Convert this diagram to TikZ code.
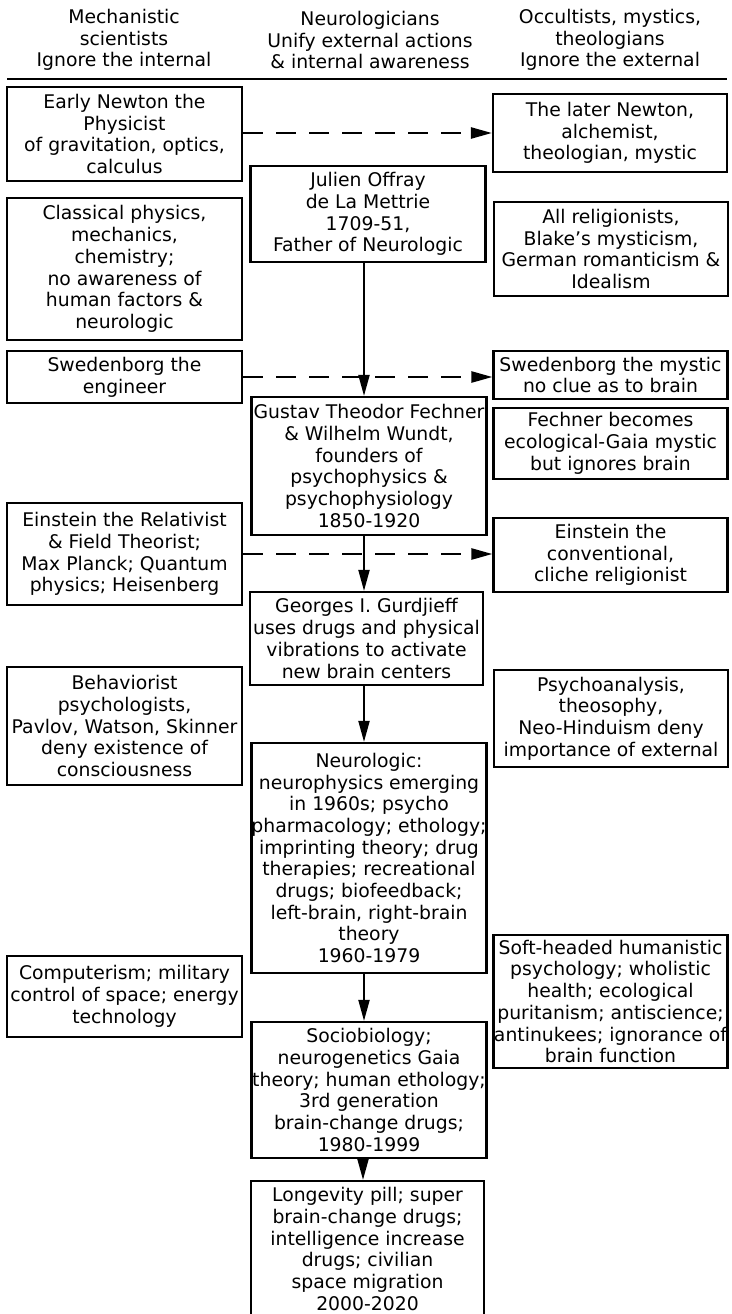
\documentclass[tikz,border=0pt]{standalone}
\usepackage{fontspec}
\setmainfont{DejaVu Sans}
\usetikzlibrary{arrows.meta}
\newcommand{\chartfont}{\fontsize{18.8}{21.7}\selectfont}

\begin{document}
\begin{tikzpicture}[x=1pt,y=-1pt,
  cbox/.style={draw,line width=2.2pt,inner sep=0pt,align=center,font=\chartfont},
  lcol/.style={cbox,minimum width=235pt},
  mcol/.style={cbox,minimum width=235pt},
  rcol/.style={cbox,minimum width=234pt},
  headtext/.style={align=center,inner sep=0pt,font=\chartfont},
  flow/.style={-{Triangle[length=21pt,width=11pt]},line width=2pt},
  crossflow/.style={-{Triangle[length=21pt,width=11pt]},line width=2.5pt,dash pattern=on 20pt off 13pt}]
  \clip (0,0) rectangle (731,1314);
  \fill[white] (0,0) rectangle (731,1314);

  % column headings
  \node[headtext] (hleft) at (124,40) {Mechanistic\\scientists\\Ignore the internal};
  \node[headtext] (hmid) at (370,40) {Neurologicians\\Unify external actions\\\& internal awareness};
  \node[headtext] (hright) at (610,40) {Occultists, mystics,\\theologians\\Ignore the external};
  \draw[line width=2.7pt] (7,79) -- (727,79);

  % left column
  \node[lcol,minimum height=94pt] (lnewton) at (124.5,134) {Early Newton the\\Physicist\\of gravitation, optics,\\calculus};
  \node[lcol,minimum height=142pt] (lclassic) at (124.5,269) {Classical physics,\\mechanics,\\chemistry;\\no awareness of\\human factors \&\\neurologic};
  \node[lcol,minimum height=52pt] (lsweden) at (124.5,377) {Swedenborg the\\engineer};
  \node[lcol,minimum height=102pt] (leinstein) at (124.5,554) {Einstein the Relativist\\\& Field Theorist;\\Max Planck; Quantum\\physics; Heisenberg};
  \node[lcol,minimum height=118pt] (lbehav) at (124.5,726) {Behaviorist\\psychologists,\\Pavlov, Watson, Skinner\\deny existence of\\consciousness};
  \node[lcol,minimum height=81pt] (lcomput) at (124.5,996.5) {Computerism; military\\control of space; energy\\technology};

  % middle column
  \node[mcol,minimum height=96pt] (mlamettrie) at (368,214) {Julien Offray\\de La Mettrie\\1709-51,\\Father of Neurologic};
  \node[mcol,minimum height=138pt] (mfechner) at (369,466) {Gustav Theodor Fechner\\\& Wilhelm Wundt,\\founders of\\psychophysics \&\\psychophysiology\\1850-1920};
  \node[mcol,minimum width=233pt,minimum height=93pt] (mgurdjieff) at (366.5,638.5) {Georges I. Gurdjieff\\uses drugs and physical\\vibrations to activate\\new brain centers};
  \node[mcol,minimum height=230pt] (mneuro) at (369,858) {Neurologic:\\neurophysics emerging\\in 1960s; psycho\\pharmacology; ethology;\\imprinting theory; drug\\therapies; recreational\\drugs; biofeedback;\\left-brain, right-brain\\theory\\1960-1979};
  \node[mcol,minimum height=136pt] (msocio) at (369,1090) {Sociobiology;\\neurogenetics Gaia\\theory; human ethology;\\3rd generation\\brain-change drugs;\\1980-1999};
  \node[mcol,minimum width=233pt,minimum height=136pt] (mlongev) at (367.5,1249) {Longevity pill; super\\brain-change drugs;\\intelligence increase\\drugs; civilian\\space migration\\2000-2020};

  % right column
  \node[rcol,minimum height=78pt] (rnewton) at (610,133) {The later Newton,\\alchemist,\\theologian, mystic};
  \node[rcol,minimum height=94pt] (rrelig) at (611,249) {All religionists,\\Blake's mysticism,\\German romanticism \&\\Idealism};
  \node[rcol,minimum height=48pt] (rsweden) at (610.5,375) {Swedenborg the mystic\\no clue as to brain};
  \node[rcol,minimum height=71pt] (rfechner) at (610.5,443.5) {Fechner becomes\\ecological-Gaia mystic\\but ignores brain};
  \node[rcol,minimum height=74pt] (reinstein) at (610.5,555) {Einstein the\\conventional,\\cliche religionist};
  \node[rcol,minimum height=97pt] (rpsycho) at (611,718.5) {Psychoanalysis,\\theosophy,\\Neo-Hinduism deny\\importance of external};
  \node[rcol,minimum height=133pt] (rsoft) at (610.5,1001.5) {Soft-headed humanistic\\psychology; wholistic\\health; ecological\\puritanism; antiscience;\\antinukees; ignorance of\\brain function};

  % main line of descent
  \draw[flow] ([xshift=-4pt]mlamettrie.south) -- ([xshift=-5pt]mfechner.north);
  \draw[flow] ([xshift=-5pt]mfechner.south) -- ([xshift=-2.5pt]mgurdjieff.north);
  \draw[flow] ([xshift=-2.5pt]mgurdjieff.south) -- ([xshift=-5pt]mneuro.north);
  \draw[flow] ([xshift=-5pt]mneuro.south) -- ([xshift=-5pt]msocio.north);
  \draw[flow] ([xshift=-6pt]msocio.south) -- ([xshift=-4.5pt]mlongev.north);

  % split personalities
  \draw[crossflow] (lnewton.east |- rnewton.west) -- (rnewton.west);
  \draw[crossflow] (lsweden.east) -- (lsweden.east -| rsweden.west);
  \draw[crossflow] (leinstein.east) -- (leinstein.east -| reinstein.west);
\end{tikzpicture}
\end{document}
